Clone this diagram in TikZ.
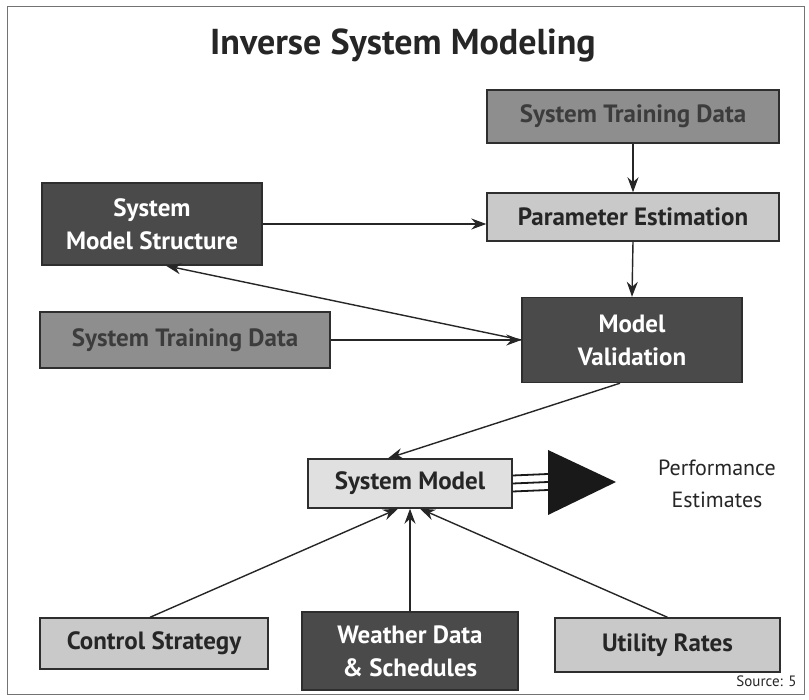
\documentclass[tikz,border=0pt]{standalone}
\usepackage{fontspec}
\setmainfont{PT Sans}
\usetikzlibrary{arrows.meta,calc}
\definecolor{darkbox}{HTML}{4A4A4A}
\definecolor{midbox}{HTML}{8E8E8E}
\definecolor{lightbox}{HTML}{C9C9C9}
\definecolor{edgecol}{HTML}{2E2E2E}
\definecolor{midtext}{HTML}{3C3C3C}
\tikzset{
  boxbase/.style={draw=edgecol, line width=1.4pt, align=center, inner sep=0pt,
    font=\bfseries\fontsize{25}{33}\selectfont},
  darkb/.style={boxbase, fill=darkbox, text=white},
  midb/.style={boxbase, fill=midbox, text=midtext},
  lightb/.style={boxbase, fill=lightbox, text=black!85},
  flow/.style={draw=black!85, line width=1.4pt, -{Stealth[length=15pt,width=11pt]}},
}
\begin{document}
\begin{tikzpicture}[x=1pt,y=-1pt]
  % page and frame
  \useasboundingbox (0,0) rectangle (809,700);
  \fill[white] (0,0) rectangle (809,700);
  \draw[black!55, line width=1pt] (7,7) rectangle (804,694);

  % title
  \node[font=\fontsize{36}{40}\selectfont\bfseries, text=black!85] (title) at (403,45) {Inverse System Modeling};

  % boxes
  \node[midb, minimum width=292, minimum height=53] (stdA) at (633,116.5) {System Training Data};
  \node[lightb, minimum width=292, minimum height=48] (pe) at (633,217) {Parameter Estimation};
  \node[darkb, minimum width=220, minimum height=82] (sms) at (152,224) {System\\Model Structure};
  \node[midb, minimum width=290, minimum height=56] (stdB) at (185,340) {System Training Data};
  \node[darkb, minimum width=220, minimum height=85] (mv) at (632,340) {Model\\Validation};
  \node[lightb, fill=black!12, minimum width=204, minimum height=49] (sm) at (410,483.5) {System Model};
  \node[lightb, minimum width=228, minimum height=51] (cs) at (154,643.5) {Control Strategy};
  \node[darkb, minimum width=216, minimum height=78] (wd) at (410,651) {Weather Data\\\& Schedules};
  \node[lightb, minimum width=225, minimum height=54] (ur) at (667.5,645) {Utility Rates};

  % output triangle and label
  \coordinate (tri) at (548,482);
  \fill[black!90] (548,450) -- (616,482) -- (548,515) -- cycle;
  \node[font=\fontsize{22}{32}\selectfont, text=black!85, align=center] (perf) at (717,484) {Performance\\Estimates};
  \node[font=\fontsize{15}{18}\selectfont, text=black!85, anchor=east] (src) at (800,681) {Source: 5};

  % connectors
  \draw[flow] (stdA.south) -- (pe.north);
  \draw[flow] (pe.south) -- (mv.north);
  \draw[flow] (sms.east) -- (pe.west |- sms.east);
  \draw[flow] (stdB.east) -- (mv.west |- stdB.east);
  \draw[flow] (mv.west) -- ($(sms.south)+(14,0)$);
  \draw[flow] ($(mv.south)+(-12,0)$) -- ($(sm.north)+(-22,0)$);
  \draw[flow] ($(cs.north)+(-4,0)$) -- ($(sm.south)+(-12,0)$);
  \draw[flow] (wd.north) -- (sm.south);
  \draw[flow] (ur.north) -- ($(sm.south)+(10,0)$);
  \foreach \dy in {-8,0,8}
    \draw[black!90, line width=1.8pt] ($(sm.east)+(0,\dy)$) -- ($(tri)+(0,\dy)$);
\end{tikzpicture}
\end{document}
